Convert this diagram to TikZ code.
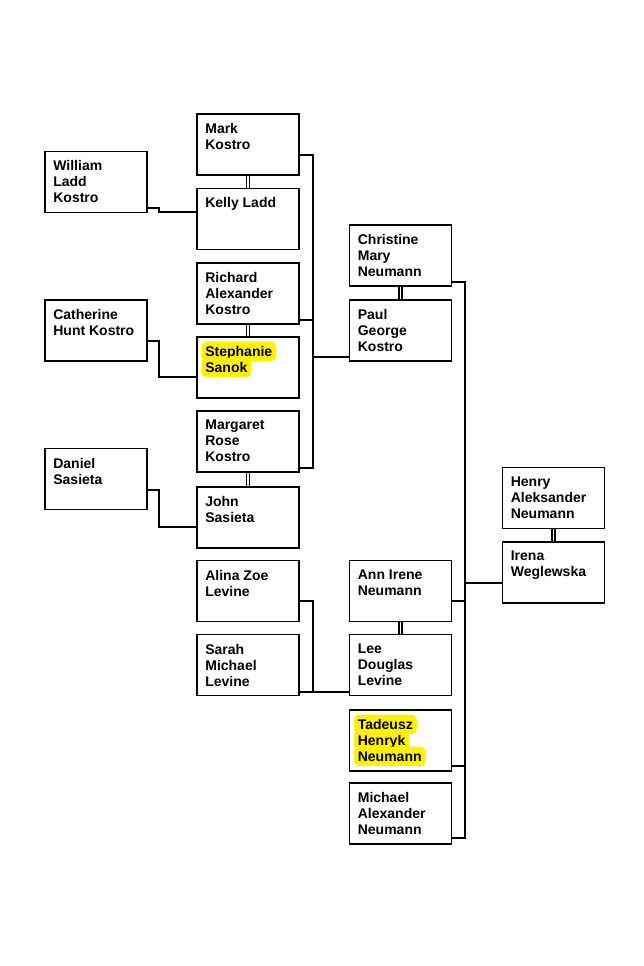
\documentclass[tikz,border=0pt]{standalone}
\usepackage{fontspec}
\setmainfont{Liberation Sans}
\usetikzlibrary{calc}
\tikzset{
  pbox/.style={draw=black, line width=1.7pt, minimum width=102pt, minimum height=61pt, inner sep=0pt, fill=white},
  ptxt/.style={anchor=north west, align=left, inner sep=0pt, font=\bfseries\fontsize{14}{16}\selectfont},
  hl/.style={anchor=base west, fill=yellow, rounded corners=5pt, inner xsep=4pt, inner ysep=0pt, text height=14.5pt, text depth=5pt, font=\bfseries\fontsize{14}{16}\selectfont},
  conn/.style={draw=black, line width=1.5pt},
  spouse/.style={draw=black, double=white, line width=1.6pt, double distance=1.4pt},
}
\begin{document}
\begin{tikzpicture}[x=1pt,y=-1pt]
\useasboundingbox[fill=white] (0,0) rectangle (644,966);
% column 1
\node[pbox] (will) at (96,182) {};
\node[pbox] (cath) at (96,330.5) {};
\node[pbox] (dan) at (96,479) {};
% column 2
\node[pbox] (mark) at (248,144.5) {};
\node[pbox] (kelly) at (248,219) {};
\node[pbox] (rich) at (248,293.5) {};
\node[pbox] (steph) at (248,367.5) {};
\node[pbox] (marg) at (248,441.5) {};
\node[pbox] (john) at (248,517.5) {};
\node[pbox] (alina) at (248,591) {};
\node[pbox] (sarah) at (248,665) {};
% column 3
\node[pbox] (chris) at (400.5,255.5) {};
\node[pbox] (paul) at (400.5,330.5) {};
\node[pbox] (ann) at (400.5,591) {};
\node[pbox] (lee) at (400.5,665) {};
\node[pbox] (tad) at (400.5,740.5) {};
\node[pbox] (mich) at (400.5,813.5) {};
% column 4
\node[pbox] (henry) at (553.5,498) {};
\node[pbox] (irena) at (553.5,572.5) {};

% texts
\node[ptxt] (t-will) at ($(will.north west)+(9,10)$) {William\\Ladd\\Kostro};
\node[ptxt] (t-cath) at ($(cath.north west)+(9,10)$) {Catherine\\Hunt Kostro};
\node[ptxt] (t-dan) at ($(dan.north west)+(9,10)$) {Daniel\\Sasieta};
\node[ptxt] (t-mark) at ($(mark.north west)+(9,10)$) {Mark\\Kostro};
\node[ptxt] (t-kelly) at ($(kelly.north west)+(9,10)$) {Kelly Ladd};
\node[ptxt] (t-rich) at ($(rich.north west)+(9,10)$) {Richard\\Alexander\\Kostro};
\node[hl] (t-steph1) at ($(steph.north west)+(5,20)$) {Stephanie};
\node[hl] (t-steph2) at ($(steph.north west)+(5,36)$) {Sanok};
\node[ptxt] (t-marg) at ($(marg.north west)+(9,10)$) {Margaret\\Rose\\Kostro};
\node[ptxt] (t-john) at ($(john.north west)+(9,10)$) {John\\Sasieta};
\node[ptxt] (t-alina) at ($(alina.north west)+(9,10)$) {Alina Zoe\\Levine};
\node[ptxt] (t-sarah) at ($(sarah.north west)+(9,10)$) {Sarah\\Michael\\Levine};
\node[ptxt] (t-chris) at ($(chris.north west)+(9,10)$) {Christine\\Mary\\Neumann};
\node[ptxt] (t-paul) at ($(paul.north west)+(9,10)$) {Paul\\George\\Kostro};
\node[ptxt] (t-ann) at ($(ann.north west)+(9,10)$) {Ann Irene\\Neumann};
\node[ptxt] (t-lee) at ($(lee.north west)+(9,10)$) {Lee\\Douglas\\Levine};
\node[hl] (t-tad1) at ($(tad.north west)+(5,20)$) {Tadeusz};
\node[hl] (t-tad2) at ($(tad.north west)+(5,36)$) {Henryk};
\node[hl] (t-tad3) at ($(tad.north west)+(5,52)$) {Neumann};
\node[ptxt] (t-mich) at ($(mich.north west)+(9,10)$) {Michael\\Alexander\\Neumann};
\node[ptxt] (t-henry) at ($(henry.north west)+(9,10)$) {Henry\\Aleksander\\Neumann};
\node[ptxt] (t-irena) at ($(irena.north west)+(9,10)$) {Irena\\Weglewska};

% spouses
\draw[spouse] (mark.south) -- (kelly.north);
\draw[spouse] (rich.south) -- (steph.north);
\draw[spouse] (marg.south) -- (john.north);
\draw[spouse] (chris.south) -- (paul.north);
\draw[spouse] (ann.south) -- (lee.north);
\draw[spouse] (henry.south) -- (irena.north);

% parents to children (left)
\draw[conn] (will.east |- 0,208) -- (159,208) -- (159,212) -- (kelly.west |- 0,212);
\draw[conn] (cath.east |- 0,341) -- (159,341) -- (159,377) -- (steph.west |- 0,377);
\draw[conn] (dan.east |- 0,490) -- (159,490) -- (159,527) -- (john.west |- 0,527);

% Kostro siblings bracket
\draw[conn] (mark.east |- 0,155) -- (313,155) -- (313,468) -- (marg.east |- 0,468);
\draw[conn] (rich.east |- 0,320) -- (313,320);
\draw[conn] (313,357) -- (paul.west |- 0,357);

% Levine siblings bracket
\draw[conn] (alina.east |- 0,601) -- (313,601) -- (313,692);
\draw[conn] (sarah.east |- 0,692) -- (lee.west |- 0,692);

% Neumann siblings bracket
\draw[conn] (chris.east |- 0,282) -- (465,282) -- (465,838) -- (mich.east |- 0,838);
\draw[conn] (ann.east |- 0,601) -- (465,601);
\draw[conn] (tad.east |- 0,766) -- (465,766);
\draw[conn] (465,583) -- (irena.west |- 0,583);
\end{tikzpicture}
\end{document}
